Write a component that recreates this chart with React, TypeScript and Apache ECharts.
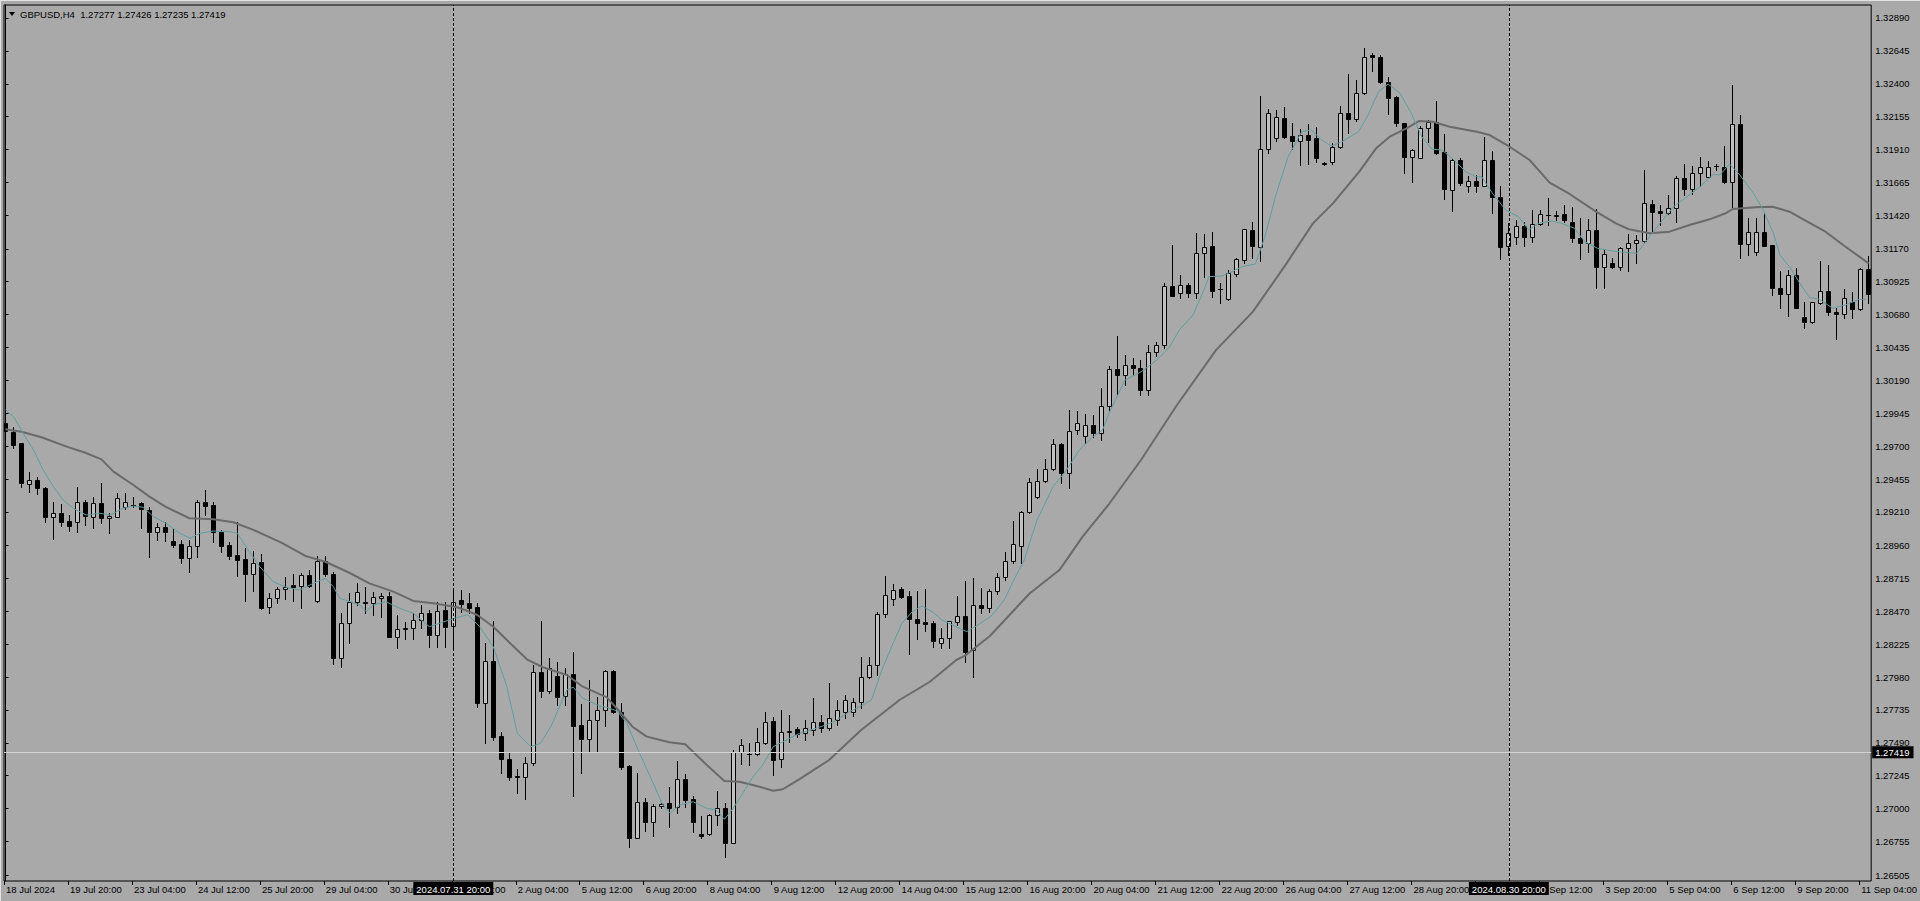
import React, { useEffect, useRef } from 'react';
import * as echarts from 'echarts';

// ---- data (GBPUSD H4, bar 0 = 18 Jul 2024 12:00) ----
const OPEN = [1.29873,1.29808,1.29721,1.29416,1.29448,1.29386,1.29170,1.29200,1.29142,1.29133,1.29282,1.29175,1.29274,1.29163,1.29175,1.29245,1.29262,1.29279,1.29225,1.29058,1.29096,1.28994,1.28971,1.28869,1.28959,1.29282,1.29262,1.29063,1.28964,1.28889,1.28859,1.28746,1.28835,1.28500,1.28567,1.28634,1.28666,1.28660,1.28740,1.28547,1.28845,1.28748,1.28124,1.28380,1.28541,1.28541,1.28529,1.28567,1.28586,1.28281,1.28336,1.28348,1.28405,1.28455,1.28293,1.28480,1.28360,1.28554,1.28529,1.28500,1.27784,1.28100,1.27541,1.27367,1.27241,1.27238,1.27342,1.28015,1.27878,1.27988,1.27839,1.28001,1.27623,1.27516,1.27660,1.27735,1.28027,1.27722,1.27317,1.26783,1.27047,1.26902,1.27019,1.27039,1.27014,1.27218,1.27071,1.26811,1.26809,1.26952,1.27002,1.26746,1.27419,1.27405,1.27405,1.27486,1.27653,1.27367,1.27571,1.27591,1.27563,1.27586,1.27645,1.27600,1.27660,1.27720,1.27720,1.27794,1.27983,1.28070,1.28450,1.28559,1.28634,1.28584,1.28412,1.28390,1.28385,1.28231,1.28269,1.28392,1.28435,1.28182,1.28517,1.28492,1.28623,1.28723,1.28847,1.28959,1.29207,1.29319,1.29443,1.29528,1.29716,1.29502,1.29821,1.29776,1.29856,1.29796,1.29999,1.30275,1.30230,1.30305,1.30282,1.30119,1.30402,1.30454,1.30893,1.30839,1.30899,1.30839,1.31137,1.31191,1.30873,1.30794,1.30981,1.31087,1.31311,1.31186,1.31912,1.31994,1.32143,1.32011,1.31976,1.32018,1.31994,1.31812,1.31815,1.31927,1.32180,1.32135,1.32329,1.32614,1.32597,1.32415,1.32304,1.32105,1.31857,1.31849,1.32068,1.32117,1.31889,1.31609,1.31832,1.31638,1.31678,1.31641,1.31832,1.31559,1.31191,1.31256,1.31340,1.31256,1.31353,1.31420,1.31420,1.31427,1.31372,1.31249,1.31216,1.31311,1.31033,1.31067,1.31037,1.31174,1.31211,1.31231,1.31502,1.31452,1.31435,1.31472,1.31696,1.31614,1.31733,1.31708,1.31785,1.31782,1.31670,1.32098,1.31204,1.31149,1.31298,1.31199,1.30881,1.30832,1.30975,1.30665,1.30627,1.30764,1.30856,1.30702,1.30682,1.30776,1.30720,1.31018];
const HIGH = [1.29984,1.29845,1.29726,1.29510,1.29468,1.29394,1.29286,1.29267,1.29187,1.29394,1.29299,1.29319,1.29423,1.29200,1.29349,1.29349,1.29324,1.29286,1.29249,1.29125,1.29133,1.29083,1.29001,1.29001,1.29299,1.29374,1.29286,1.29076,1.28988,1.29137,1.28939,1.28919,1.28895,1.28604,1.28653,1.28728,1.28746,1.28753,1.28778,1.28884,1.28884,1.28765,1.28459,1.28604,1.28683,1.28653,1.28611,1.28604,1.28616,1.28442,1.28392,1.28455,1.28517,1.28480,1.28541,1.28541,1.28641,1.28629,1.28604,1.28529,1.28231,1.28398,1.27573,1.27424,1.27293,1.27387,1.28070,1.28398,1.28120,1.28094,1.28045,1.28169,1.27779,1.27958,1.27834,1.28033,1.28033,1.27784,1.27323,1.27267,1.27077,1.27034,1.27044,1.27159,1.27355,1.27258,1.27094,1.26945,1.26960,1.27133,1.27039,1.27437,1.27518,1.27491,1.27598,1.27722,1.27685,1.27735,1.27697,1.27610,1.27660,1.27824,1.27697,1.27936,1.27809,1.27846,1.27824,1.28129,1.28127,1.28467,1.28733,1.28671,1.28649,1.28621,1.28621,1.28634,1.28398,1.28343,1.28400,1.28584,1.28696,1.28720,1.28641,1.28638,1.28753,1.28914,1.29145,1.29219,1.29461,1.29528,1.29602,1.29751,1.29726,1.29970,1.29962,1.29940,1.29932,1.30131,1.30297,1.30521,1.30379,1.30357,1.30342,1.30454,1.30478,1.30918,1.31199,1.30975,1.30918,1.31290,1.31281,1.31298,1.30918,1.31013,1.31100,1.31318,1.31372,1.32309,1.32212,1.32205,1.32225,1.32105,1.32061,1.32100,1.32076,1.31819,1.31956,1.32234,1.32473,1.32428,1.32664,1.32627,1.32614,1.32448,1.32309,1.32108,1.31912,1.32085,1.32130,1.32272,1.32026,1.31839,1.31845,1.31713,1.31720,1.32001,1.31901,1.31641,1.31365,1.31385,1.31372,1.31460,1.31460,1.31547,1.31454,1.31497,1.31484,1.31398,1.31390,1.31465,1.31167,1.31100,1.31186,1.31281,1.31273,1.31758,1.31534,1.31497,1.31571,1.31713,1.31802,1.31787,1.31852,1.31825,1.31800,1.31936,1.32391,1.32167,1.31398,1.31398,1.31435,1.31199,1.31007,1.31013,1.31025,1.30772,1.30774,1.31080,1.31050,1.30727,1.30869,1.30851,1.31025,1.31117];
const LOW = [1.29746,1.29684,1.29398,1.29361,1.29344,1.29137,1.29006,1.29107,1.29068,1.29058,1.29113,1.29093,1.29125,1.29051,1.29170,1.29232,1.29245,1.29088,1.28872,1.29001,1.28996,1.28951,1.28832,1.28765,1.28877,1.29187,1.28988,1.28914,1.28857,1.28735,1.28549,1.28623,1.28487,1.28455,1.28534,1.28561,1.28547,1.28492,1.28649,1.28541,1.28735,1.28075,1.28057,1.28231,1.28517,1.28455,1.28442,1.28430,1.28276,1.28194,1.28261,1.28261,1.28343,1.28206,1.28206,1.28206,1.28182,1.28467,1.28455,1.27755,1.27491,1.27511,1.27263,1.27213,1.27118,1.27069,1.27325,1.27834,1.27859,1.27772,1.27772,1.27094,1.27267,1.27431,1.27431,1.27618,1.27710,1.27293,1.26716,1.26779,1.26835,1.26796,1.27007,1.26865,1.26965,1.27014,1.26828,1.26779,1.26803,1.26878,1.26642,1.26741,1.27332,1.27325,1.27399,1.27481,1.27250,1.27308,1.27498,1.27536,1.27511,1.27548,1.27571,1.27586,1.27623,1.27675,1.27690,1.27749,1.27973,1.27995,1.28430,1.28517,1.28569,1.28150,1.28261,1.28325,1.28206,1.28194,1.28194,1.28368,1.28094,1.27983,1.28459,1.28467,1.28596,1.28703,1.28827,1.28827,1.29200,1.29312,1.29435,1.29523,1.29423,1.29391,1.29789,1.29726,1.29771,1.29746,1.29970,1.30081,1.30156,1.30230,1.30081,1.30081,1.30372,1.30429,1.30819,1.30802,1.30814,1.30806,1.30963,1.30814,1.30764,1.30789,1.30968,1.31067,1.31100,1.31082,1.31886,1.31976,1.31994,1.31912,1.31795,1.31802,1.31819,1.31795,1.31802,1.31919,1.32035,1.32125,1.32324,1.32497,1.32403,1.32172,1.32085,1.31737,1.31670,1.31847,1.31968,1.31877,1.31539,1.31454,1.31646,1.31596,1.31596,1.31638,1.31435,1.31092,1.31124,1.31206,1.31191,1.31223,1.31348,1.31348,1.31385,1.31372,1.31223,1.31092,1.31149,1.30881,1.30876,1.31025,1.31013,1.31007,1.31062,1.31223,1.31286,1.31348,1.31430,1.31372,1.31571,1.31579,1.31638,1.31705,1.31758,1.31663,1.31484,1.31100,1.31124,1.31124,1.31191,1.30826,1.30727,1.30670,1.30729,1.30578,1.30615,1.30759,1.30677,1.30496,1.30657,1.30657,1.30715,1.30769];
const CLOSE = [1.29813,1.29709,1.29428,1.29448,1.29386,1.29170,1.29200,1.29137,1.29107,1.29282,1.29182,1.29274,1.29163,1.29180,1.29316,1.29282,1.29264,1.29230,1.29058,1.29096,1.29063,1.28964,1.28869,1.28959,1.29282,1.29257,1.29063,1.28959,1.28882,1.28852,1.28746,1.28827,1.28492,1.28567,1.28634,1.28653,1.28653,1.28740,1.28660,1.28845,1.28746,1.28124,1.28380,1.28541,1.28611,1.28529,1.28574,1.28586,1.28281,1.28336,1.28348,1.28405,1.28455,1.28293,1.28474,1.28355,1.28537,1.28524,1.28498,1.27784,1.28100,1.27536,1.27367,1.27233,1.27233,1.27342,1.28015,1.27878,1.28045,1.27834,1.28003,1.27618,1.27516,1.27660,1.27735,1.28025,1.27717,1.27312,1.26783,1.27047,1.26902,1.27022,1.27034,1.27007,1.27218,1.27064,1.26902,1.26798,1.26952,1.27002,1.26746,1.27424,1.27474,1.27407,1.27494,1.27643,1.27362,1.27573,1.27576,1.27556,1.27600,1.27645,1.27600,1.27675,1.27735,1.27809,1.27794,1.27980,1.28070,1.28450,1.28591,1.28629,1.28579,1.28410,1.28385,1.28373,1.28251,1.28269,1.28398,1.28435,1.28169,1.28517,1.28492,1.28621,1.28723,1.28847,1.28969,1.29207,1.29435,1.29443,1.29528,1.29714,1.29502,1.29815,1.29870,1.29856,1.29796,1.30002,1.30275,1.30230,1.30305,1.30282,1.30119,1.30402,1.30454,1.30893,1.30821,1.30899,1.30839,1.31137,1.31186,1.30858,1.30869,1.30988,1.31092,1.31316,1.31194,1.31912,1.32180,1.32150,1.32006,1.31976,1.32018,1.31981,1.31849,1.31802,1.31927,1.32180,1.32135,1.32329,1.32597,1.32597,1.32415,1.32296,1.32105,1.31857,1.31907,1.32068,1.32117,1.31882,1.31614,1.31832,1.31658,1.31678,1.31641,1.31832,1.31554,1.31186,1.31290,1.31340,1.31256,1.31353,1.31427,1.31422,1.31417,1.31385,1.31249,1.31216,1.31311,1.31033,1.31130,1.31037,1.31174,1.31211,1.31236,1.31509,1.31447,1.31435,1.31472,1.31696,1.31614,1.31733,1.31778,1.31782,1.31787,1.31670,1.32098,1.31204,1.31298,1.31298,1.31194,1.30881,1.30832,1.30975,1.30732,1.30623,1.30772,1.30856,1.30702,1.30682,1.30802,1.30720,1.31018,1.30832];

// Moving averages: [bar position, price]
const SLOW_MA: [number, number][] = [[0,1.29826],[2,1.29808],[4.5,1.29766],[8,1.29689],[10,1.29651],[12,1.29602],[13.5,1.29510],[16,1.29411],[18,1.29324],[20,1.29249],[23,1.29163],[26,1.29155],[28.5,1.29133],[31,1.29076],[34.5,1.28981],[37.5,1.28882],[40,1.28839],[43,1.28757],[45.5,1.28678],[48.5,1.28616],[51,1.28547],[53.5,1.28529],[56.5,1.28500],[58,1.28467],[59,1.28442],[61,1.28355],[62.7,1.28256],[65.2,1.28112],[67.2,1.28053],[70.2,1.27995],[72.2,1.27908],[75.2,1.27829],[77,1.27710],[78.4,1.27610],[80.2,1.27536],[83,1.27494],[85,1.27479],[87.7,1.27325],[89.9,1.27206],[91.8,1.27200],[94.3,1.27163],[96,1.27133],[97.2,1.27144],[99.3,1.27220],[103,1.27362],[107,1.27586],[111.8,1.27809],[115.6,1.27945],[118.9,1.28107],[120.1,1.28144],[123.1,1.28286],[128.1,1.28604],[131.8,1.28777],[134.7,1.29026],[138,1.29269],[142,1.29597],[146.5,1.30007],[151.4,1.30417],[156,1.30702],[160.2,1.31062],[163.5,1.31360],[166,1.31509],[169.3,1.31745],[171.4,1.31919],[173.1,1.32006],[175.2,1.32068],[176.8,1.32123],[178.5,1.32117],[180.6,1.32080],[184,1.32043],[185.6,1.32018],[188.1,1.31931],[190.6,1.31832],[193.1,1.31663],[195.6,1.31579],[198.9,1.31447],[201.4,1.31360],[203,1.31316],[205.6,1.31286],[208.1,1.31298],[210.6,1.31348],[213.1,1.31390],[215.1,1.31435],[216,1.31467],[218.9,1.31480],[221,1.31484],[223.1,1.31447],[225.1,1.31380],[227.6,1.31298],[230.1,1.31186],[233,1.31062]];
const FAST_MA: [number, number][] = [[0,1.29970],[1,1.29920],[2.2,1.29798],[3.5,1.29672],[4.7,1.29523],[6,1.29398],[7.2,1.29299],[8.5,1.29237],[10.1,1.29187],[11.8,1.29200],[13.1,1.29187],[14.7,1.29237],[16,1.29254],[17.2,1.29245],[18.5,1.29175],[20.1,1.29125],[21.8,1.29051],[23.1,1.29014],[24.3,1.29051],[26,1.29068],[28.1,1.29063],[29,1.29051],[30.2,1.28939],[31.8,1.28802],[33.5,1.28690],[35.1,1.28649],[36.8,1.28629],[38.5,1.28678],[40,1.28716],[41,1.28653],[41.8,1.28567],[43.1,1.28541],[44.3,1.28517],[45.1,1.28467],[46,1.28517],[47.6,1.28541],[49.3,1.28492],[51,1.28455],[53,1.28355],[54.5,1.28385],[56,1.28415],[57.8,1.28445],[59.3,1.28355],[61,1.28206],[62.7,1.27908],[64,1.27561],[65.7,1.27461],[66.9,1.27486],[68.2,1.27610],[70.2,1.27884],[71,1.27904],[72.2,1.27822],[74.3,1.27764],[75.2,1.27755],[76.5,1.27727],[77.7,1.27635],[79.3,1.27412],[81,1.27188],[82.1,1.27039],[83.1,1.26965],[84.3,1.27027],[86,1.27051],[87.7,1.27002],[88.9,1.26990],[89.9,1.26920],[91,1.27002],[92.2,1.27114],[93.5,1.27238],[94.7,1.27325],[96,1.27461],[97.2,1.27498],[99.3,1.27561],[101.5,1.27600],[103.5,1.27645],[105.5,1.27720],[107,1.27764],[108.3,1.27809],[109.6,1.28033],[110.9,1.28219],[112.1,1.28380],[113.4,1.28467],[114.6,1.28509],[115.9,1.28467],[117.1,1.28405],[118.4,1.28368],[120.2,1.28318],[121.6,1.28368],[123.3,1.28435],[124.9,1.28554],[126.1,1.28703],[127.4,1.28852],[129,1.29150],[131,1.29398],[132.7,1.29523],[134.3,1.29672],[136,1.29771],[137.2,1.29821],[138,1.29945],[140,1.30193],[142,1.30253],[144,1.30342],[145.6,1.30441],[146.8,1.30566],[148.5,1.30677],[149.7,1.30839],[150.5,1.30963],[152.1,1.30968],[153.4,1.31000],[154.6,1.31037],[156.3,1.31057],[157.5,1.31261],[158.8,1.31559],[160.4,1.31857],[162.1,1.32043],[163.3,1.32056],[164.6,1.31981],[165.8,1.31936],[167.1,1.31968],[169.2,1.32043],[170.4,1.32167],[171.7,1.32341],[172.9,1.32398],[174.4,1.32329],[175.8,1.32180],[177.1,1.32006],[178.4,1.31912],[179.6,1.31907],[180.9,1.31845],[182.6,1.31745],[183.8,1.31708],[184.6,1.31708],[185.9,1.31588],[187.6,1.31460],[189.2,1.31410],[190.5,1.31311],[191.7,1.31360],[193.4,1.31378],[194.6,1.31360],[196.2,1.31323],[197.5,1.31223],[199.1,1.31174],[200.8,1.31156],[202.9,1.31141],[204,1.31137],[205.6,1.31261],[206.9,1.31360],[208.6,1.31484],[210.3,1.31559],[211.9,1.31633],[213.6,1.31726],[214.4,1.31720],[215.6,1.31802],[216.9,1.31720],[218.6,1.31584],[219.8,1.31460],[221.1,1.31286],[221.9,1.31124],[223.1,1.31037],[224.4,1.30913],[225.6,1.30806],[226.8,1.30796],[228.5,1.30727],[230.1,1.30752],[231.8,1.30794],[232.6,1.30794]];

const PRICE_TICKS = ['1.32890','1.32645','1.32400','1.32155','1.31910','1.31665','1.31420','1.31170','1.30925','1.30680','1.30435','1.30190','1.29945','1.29700','1.29455','1.29210','1.28960','1.28715','1.28470','1.28225','1.27980','1.27735','1.27490','1.27245','1.27000','1.26755','1.26505'];
const TIME_LABEL_BARS = [0,8,16,24,32,40,48,56,64,72,80,88,96,104,112,120,128,136,144,152,160,168,176,184,192,200,208,216,224,232];
const TIME_LABELS = ['18 Jul 2024','19 Jul 20:00','23 Jul 04:00','24 Jul 12:00','25 Jul 20:00','29 Jul 04:00','30 Jul 12:00','31 Jul 20:00','2 Aug 04:00','5 Aug 12:00','6 Aug 20:00','8 Aug 04:00','9 Aug 12:00','12 Aug 20:00','14 Aug 04:00','15 Aug 12:00','16 Aug 20:00','20 Aug 04:00','21 Aug 12:00','22 Aug 20:00','26 Aug 04:00','27 Aug 12:00','28 Aug 20:00','30 Aug 04:00','2 Sep 12:00','3 Sep 20:00','5 Sep 04:00','6 Sep 12:00','9 Sep 20:00','11 Sep 04:00'];
const VLINE_BARS = [56, 188];
const VLINE_LABELS = ['2024.07.31 20:00', '2024.08.30 20:00'];
const SYMBOL = 'GBPUSD,H4';
const LAST_OHLC = ['1.27277', '1.27426', '1.27235', '1.27419'];
const BID = 1.27419;

const Y_MIN = 1.264605;
const Y_MAX = 1.3298675;
const X_MIN = -0.1875;
const X_MAX = 233.3125;

const BG = '#a9a9a9';
const BULL_FILL = '#c0c0c0';
const FONT = '"Liberation Sans", Arial, sans-serif';
const FS = 9.5;

export default function App() {
  const ref = useRef<HTMLDivElement>(null);
  useEffect(() => {
    document.body.style.margin = '0';
    document.body.style.background = BG;
    const chart = echarts.init(ref.current!, null, { renderer: 'svg' });
    const candleData = OPEN.map((o, i) => [i, o, CLOSE[i], LOW[i], HIGH[i]]);
    const tickVals = PRICE_TICKS.map((t) => parseFloat(t));
    const timeTickVals = TIME_LABEL_BARS.map((b) => b - 0.1875);

    const renderItem = (params: any, api: any) => {
      const i = api.value(0);
      const o = api.value(1);
      const c = api.value(2);
      const l = api.value(3);
      const h = api.value(4);
      const po = api.coord([i, o]);
      const pc = api.coord([i, c]);
      const pl = api.coord([i, l]);
      const ph = api.coord([i, h]);
      const cx = Math.round(po[0] - 0.5) + 0.5;
      const bull = c >= o;
      const top = Math.round(Math.min(po[1], pc[1])) + 0.5;
      const bot = Math.round(Math.max(po[1], pc[1])) + 0.5;
      const children: any[] = [
        {
          type: 'line',
          shape: { x1: cx, y1: Math.round(ph[1]), x2: cx, y2: Math.round(pl[1]) + 1 },
          style: { stroke: '#000', lineWidth: 1 },
        },
      ];
      if (bot - top < 1) {
        children.push({
          type: 'line',
          shape: { x1: cx - 2.5, y1: top, x2: cx + 2.5, y2: top },
          style: { stroke: '#000', lineWidth: 1 },
        });
      } else {
        children.push({
          type: 'rect',
          shape: { x: cx - 2, y: top, width: 4, height: bot - top },
          style: { fill: bull ? BULL_FILL : '#000', stroke: '#000', lineWidth: 1 },
        });
      }
      return { type: 'group', children };
    };

    const markData: any[] = VLINE_BARS.map((b, k) => ({
      xAxis: b,
      lineStyle: { color: '#000', type: [3, 2], width: 1 },
      label: {
        show: true,
        position: 'start',
        formatter: VLINE_LABELS[k],
        backgroundColor: '#000',
        color: '#fff',
        padding: [2, 3, 1, 3],
        distance: 1,
        fontSize: FS,
        fontFamily: FONT,
      },
    }));
    markData.push({
      yAxis: BID,
      lineStyle: { color: '#d3d3d3', type: 'solid', width: 1 },
      label: {
        show: true,
        position: 'end',
        formatter: BID.toFixed(5),
        backgroundColor: '#000',
        color: '#fff',
        padding: [1, 4, 1, 3],
        distance: 1,
        fontSize: FS,
        fontFamily: FONT,
      },
    });

    chart.setOption({
      animation: false,
      backgroundColor: BG,
      grid: {
        left: 4,
        top: 5,
        width: 1868,
        height: 876,
        show: true,
        borderColor: '#000',
        borderWidth: 1,
        backgroundColor: 'transparent',
      },
      xAxis: {
        type: 'value',
        min: X_MIN,
        max: X_MAX,
        axisLine: { show: false },
        splitLine: { show: false },
        axisTick: {
          show: true,
          customValues: timeTickVals,
          length: 4,
          lineStyle: { color: '#000' },
        },
        axisLabel: {
          show: true,
          customValues: timeTickVals,
          formatter: (v: number) => {
            const idx = TIME_LABEL_BARS.indexOf(Math.round(v + 0.1875));
            return idx >= 0 ? TIME_LABELS[idx] : '';
          },
          align: 'left',
          padding: [0, 0, 0, 2],
          margin: 3,
          color: '#000',
          fontSize: FS,
          fontFamily: FONT,
          hideOverlap: false,
          showMinLabel: true,
          showMaxLabel: true,
        },
      },
      yAxis: {
        type: 'value',
        position: 'right',
        min: Y_MIN,
        max: Y_MAX,
        axisLine: { show: true, lineStyle: { color: '#000' } },
        splitLine: { show: false },
        axisTick: {
          show: true,
          customValues: tickVals,
          length: 3,
          lineStyle: { color: '#000' },
        },
        axisLabel: {
          show: true,
          customValues: tickVals,
          formatter: (v: number) => v.toFixed(5),
          margin: 4,
          color: '#000',
          fontSize: FS,
          fontFamily: FONT,
        },
      },
      series: [
        {
          type: 'custom',
          name: 'candles',
          renderItem,
          data: candleData,
          encode: { x: 0, y: [1, 2, 3, 4] },
          clip: true,
          z: 2,
          silent: true,
        },
        {
          type: 'line',
          name: 'slow',
          data: SLOW_MA,
          showSymbol: false,
          symbol: 'none',
          lineStyle: { color: '#6a6a6a', width: 2 },
          z: 3,
          silent: true,
          clip: true,
        },
        {
          type: 'line',
          name: 'fast',
          data: FAST_MA,
          showSymbol: false,
          symbol: 'none',
          lineStyle: { color: '#5f9ea0', width: 1 },
          z: 4,
          silent: true,
          clip: true,
          markLine: {
            symbol: ['none', 'none'],
            silent: true,
            animation: false,
            precision: 5,
            data: markData,
          },
        },
      ],
      graphic: [
        {
          type: 'rect',
          shape: { x: 0, y: 0, width: 1920, height: 1 },
          style: { fill: '#e2e2e2' },
          z: 100,
        },
        {
          type: 'rect',
          shape: { x: 0, y: 0, width: 1, height: 901 },
          style: { fill: '#e2e2e2' },
          z: 100,
        },
        {
          type: 'polygon',
          shape: { points: [[9, 12], [15, 12], [12, 16]] },
          style: { fill: '#000' },
          z: 100,
        },
        {
          type: 'text',
          x: 20,
          y: 14,
          style: {
            text: SYMBOL + '  ' + LAST_OHLC.join(' '),
            fill: '#000',
            font: FS + 'px ' + FONT,
            textVerticalAlign: 'middle',
          },
          z: 100,
        },
      ],
    });
    return () => chart.dispose();
  }, []);
  return (
    <div
      style={{ position: 'absolute', left: 0, top: 0, width: 1920, height: 901, background: BG }}
    >
      <div ref={ref} style={{ width: 1920, height: 901 }} />
    </div>
  );
}
